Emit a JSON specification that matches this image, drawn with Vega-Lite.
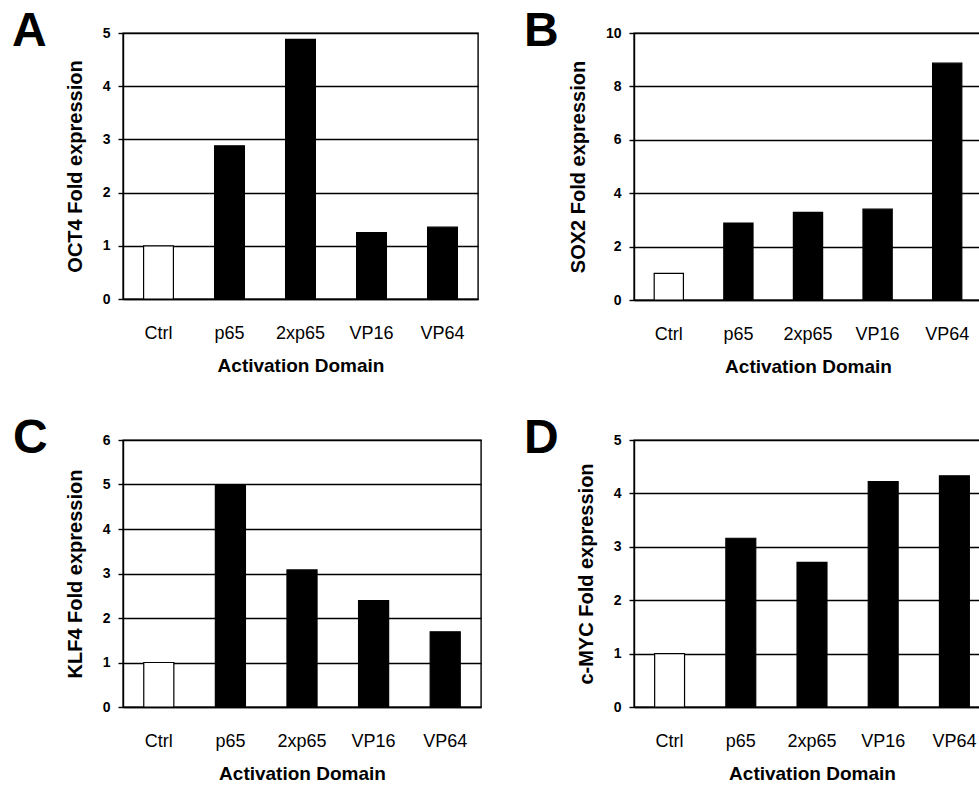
{
  "$schema": "https://vega.github.io/schema/vega-lite/v6.json",
  "background": "white",
  "padding": {"left": 11, "top": 7, "right": 0, "bottom": 0},
  "datasets": {
    "expr": [
      {"panel": "A", "domain": "Ctrl", "value": 1, "group": "control"},
      {"panel": "A", "domain": "p65", "value": 2.88, "group": "treatment"},
      {"panel": "A", "domain": "2xp65", "value": 4.88, "group": "treatment"},
      {"panel": "A", "domain": "VP16", "value": 1.25, "group": "treatment"},
      {"panel": "A", "domain": "VP64", "value": 1.35, "group": "treatment"},
      {"panel": "B", "domain": "Ctrl", "value": 1, "group": "control"},
      {"panel": "B", "domain": "p65", "value": 2.88, "group": "treatment"},
      {"panel": "B", "domain": "2xp65", "value": 3.28, "group": "treatment"},
      {"panel": "B", "domain": "VP16", "value": 3.4, "group": "treatment"},
      {"panel": "B", "domain": "VP64", "value": 8.87, "group": "treatment"},
      {"panel": "C", "domain": "Ctrl", "value": 1, "group": "control"},
      {"panel": "C", "domain": "p65", "value": 5.0, "group": "treatment"},
      {"panel": "C", "domain": "2xp65", "value": 3.08, "group": "treatment"},
      {"panel": "C", "domain": "VP16", "value": 2.39, "group": "treatment"},
      {"panel": "C", "domain": "VP64", "value": 1.69, "group": "treatment"},
      {"panel": "D", "domain": "Ctrl", "value": 1, "group": "control"},
      {"panel": "D", "domain": "p65", "value": 3.16, "group": "treatment"},
      {"panel": "D", "domain": "2xp65", "value": 2.71, "group": "treatment"},
      {"panel": "D", "domain": "VP16", "value": 4.22, "group": "treatment"},
      {"panel": "D", "domain": "VP64", "value": 4.33, "group": "treatment"}
    ]
  },
  "columns": 2,
  "bounds": "flush",
  "spacing": {"row": 140, "column": 153},
  "concat": [
    {
      "width": 355, "height": 266,
      "title": {"text": "A", "dx": -111, "dy": 34},
      "data": {"name": "expr"},
      "transform": [{"filter": "datum.panel === 'A'"}],
      "mark": {"type": "bar", "stroke": "black", "strokeWidth": 1.2},
      "encoding": {
        "x": {"field": "domain", "type": "nominal", "sort": ["Ctrl", "p65", "2xp65", "VP16", "VP64"], "scale": {"paddingInner": 0.58, "paddingOuter": 0.29}, "axis": {"title": "Activation Domain"}},
        "y": {"field": "value", "type": "quantitative", "scale": {"domain": [0, 5], "nice": false}, "axis": {"title": "OCT4 Fold expression", "values": [0, 1, 2, 3, 4, 5]}},
        "fill": {"field": "group", "type": "nominal", "scale": {"domain": ["control", "treatment"], "range": ["white", "black"]}, "legend": null}
      }
    },
    {
      "width": 348, "height": 267,
      "title": {"text": "B", "dx": -110, "dy": 34},
      "data": {"name": "expr"},
      "transform": [{"filter": "datum.panel === 'B'"}],
      "mark": {"type": "bar", "stroke": "black", "strokeWidth": 1.2},
      "encoding": {
        "x": {"field": "domain", "type": "nominal", "sort": ["Ctrl", "p65", "2xp65", "VP16", "VP64"], "scale": {"paddingInner": 0.58, "paddingOuter": 0.29}, "axis": {"title": "Activation Domain"}},
        "y": {"field": "value", "type": "quantitative", "scale": {"domain": [0, 10], "nice": false}, "axis": {"title": "SOX2 Fold expression", "values": [0, 2, 4, 6, 8, 10]}},
        "fill": {"field": "group", "type": "nominal", "scale": {"domain": ["control", "treatment"], "range": ["white", "black"]}, "legend": null}
      }
    },
    {
      "width": 358, "height": 267,
      "title": {"text": "C", "dx": -110, "dy": 34},
      "data": {"name": "expr"},
      "transform": [{"filter": "datum.panel === 'C'"}],
      "mark": {"type": "bar", "stroke": "black", "strokeWidth": 1.2},
      "encoding": {
        "x": {"field": "domain", "type": "nominal", "sort": ["Ctrl", "p65", "2xp65", "VP16", "VP64"], "scale": {"paddingInner": 0.58, "paddingOuter": 0.29}, "axis": {"title": "Activation Domain"}},
        "y": {"field": "value", "type": "quantitative", "scale": {"domain": [0, 6], "nice": false}, "axis": {"title": "KLF4 Fold expression", "values": [0, 1, 2, 3, 4, 5, 6]}},
        "fill": {"field": "group", "type": "nominal", "scale": {"domain": ["control", "treatment"], "range": ["white", "black"]}, "legend": null}
      }
    },
    {
      "width": 356, "height": 267,
      "title": {"text": "D", "dx": -110, "dy": 34},
      "data": {"name": "expr"},
      "transform": [{"filter": "datum.panel === 'D'"}],
      "mark": {"type": "bar", "stroke": "black", "strokeWidth": 1.2},
      "encoding": {
        "x": {"field": "domain", "type": "nominal", "sort": ["Ctrl", "p65", "2xp65", "VP16", "VP64"], "scale": {"paddingInner": 0.58, "paddingOuter": 0.29}, "axis": {"title": "Activation Domain"}},
        "y": {"field": "value", "type": "quantitative", "scale": {"domain": [0, 5], "nice": false}, "axis": {"title": "c-MYC Fold expression", "values": [0, 1, 2, 3, 4, 5]}},
        "fill": {"field": "group", "type": "nominal", "scale": {"domain": ["control", "treatment"], "range": ["white", "black"]}, "legend": null}
      }
    }
  ],
  "config": {
    "font": "Liberation Sans",
    "view": {"stroke": "black", "strokeWidth": 1.4},
    "title": {"fontSize": 48, "fontWeight": "bold", "anchor": "start", "frame": "group", "baseline": "alphabetic", "offset": 0, "color": "black", "font": "Liberation Sans"},
    "axis": {"domainColor": "black", "domainWidth": 1.4, "gridColor": "black", "gridWidth": 1.4, "gridOpacity": 1, "tickColor": "black", "tickWidth": 1.4, "labelColor": "black", "titleColor": "black", "labelFont": "Liberation Sans", "titleFont": "Liberation Sans", "titleFontWeight": "bold", "titleFontSize": 20},
    "axisX": {"ticks": false, "grid": false, "labelFontSize": 18, "labelFontWeight": "normal", "labelPadding": 25, "titleFontSize": 19, "titlePadding": 14, "labelAngle": 0},
    "axisY": {"tickSize": 5, "labelFontSize": 14, "labelFontWeight": "bold", "labelPadding": 8, "titlePadding": 17, "grid": true}
  }
}
